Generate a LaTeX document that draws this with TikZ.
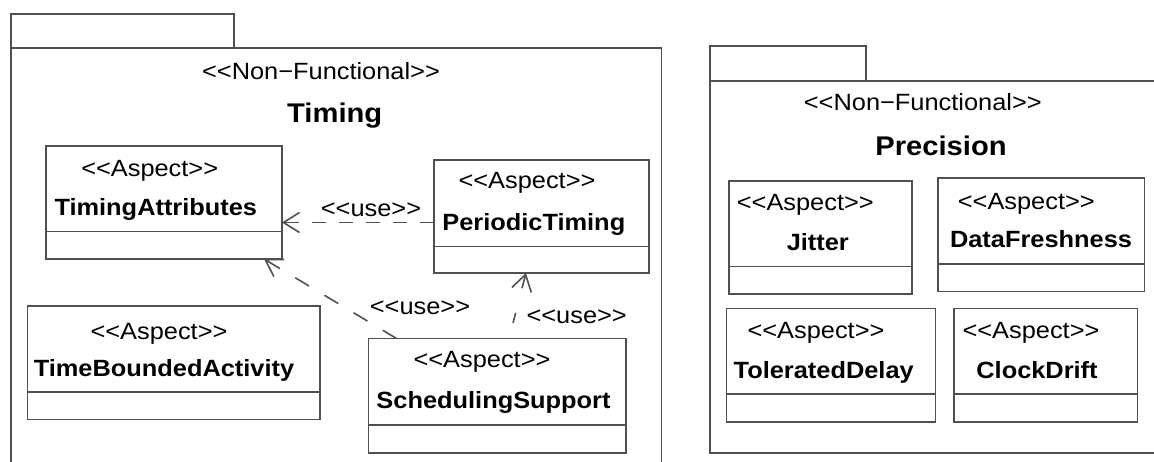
\documentclass[tikz,border=0pt]{standalone}
\usepackage{fontspec}
\newfontfamily\uf{Liberation Sans}[FakeStretch=1.08]
\usetikzlibrary{arrows.meta}
\definecolor{lncol}{HTML}{505050}
\newcommand\aspectbox[6]{% name, x, y, w, h, divider offset
  \node[cls, minimum width=#4pt, minimum height=#5pt] (#1) at (#2,#3) {};
  \draw[ln] ([yshift=-#6pt]#1.north west) -- ([yshift=-#6pt]#1.north east);
}
\begin{document}
\begin{tikzpicture}[x=1pt,y=-1pt,
  ln/.style={draw=lncol, line width=1.7pt},
  cls/.style={ln, rectangle, inner sep=0pt, outer sep=0pt, anchor=north west},
  st/.style={font=\uf\fontsize{23.5}{28}\selectfont, anchor=base, inner sep=0pt, text=black},
  nm/.style={font=\uf\fontsize{23.5}{28}\selectfont\bfseries, anchor=base, inner sep=0pt, text=black},
  ttl/.style={font=\uf\fontsize{27}{32}\selectfont\bfseries, anchor=base, inner sep=0pt, text=black},
  usearrow/.style={draw=lncol, line width=1.6pt, dash pattern=on 14pt off 13pt,
    -{Straight Barb[length=16pt,width=20pt]}},
]
\clip (0,0) rectangle (1154,461);
\fill[white] (0,0) rectangle (1154,461);

% ---------- left package: Timing ----------
\draw[ln] (11,48) -- (11,14) -- (234,14) -- (234,48);
\draw[ln] (11,480) -- (11,48) -- (661.5,48) -- (661.5,480);
\node[st] (lnf) at (321,79) {<<Non−Functional>>};
\node[ttl] (lttl) at (334.7,122.7) {Timing};

\aspectbox{ta}{46}{146}{236}{113}{85.5}
\node[st] (ta-s) at (149.7,176.7) {<<Aspect>>};
\node[nm] (ta-n) at (155.8,215) {TimingAttributes};

\aspectbox{pt}{434}{160}{215}{113}{86.5}
\node[st] (pt-s) at (527,188.3) {<<Aspect>>};
\node[nm] (pt-n) at (533.8,230.7) {PeriodicTiming};

\aspectbox{tba}{27.5}{306}{292.5}{113.5}{86}
\node[st] (tba-s) at (159,339) {<<Aspect>>};
\node[nm] (tba-n) at (164,376.5) {TimeBoundedActivity};

\aspectbox{ss}{368.5}{338.5}{257.5}{114.5}{86.5}
\node[st] (ss-s) at (482,367.3) {<<Aspect>>};
\node[nm] (ss-n) at (493.5,408) {SchedulingSupport};

% dependencies
\draw[usearrow] ([yshift=-6pt]pt.west) -- ([yshift=-6pt]pt.west -| ta.east);
\node[st] (u1) at (371,216) {<<use>>};
\draw[usearrow, dash pattern=on 16pt off 18pt] ([xshift=28pt]ss.north west) -- ([xshift=-18pt]ta.south east);
\node[st] (u2) at (420,314) {<<use>>};
\draw[usearrow, dash pattern=on 0pt off 16pt on 10.5pt off 25.5pt on 30pt] ([xshift=140.5pt]ss.north west) -- ([xshift=92pt]pt.south west);
\node[st] (u3) at (576.7,323.3) {<<use>>};

% ---------- right package: Precision ----------
\draw[ln] (710,81) -- (710,46) -- (866,46) -- (866,81);
\draw[ln] (1170,453) -- (710,453) -- (710,81) -- (1170,81);
\node[st] (rnf) at (922.8,110.7) {<<Non−Functional>>};
\node[ttl] (rttl) at (941,155) {Precision};

\aspectbox{ji}{729}{181}{183}{113}{85.5}
\node[st] (ji-s) at (805.3,210) {<<Aspect>>};
\node[nm] (ji-n) at (817.8,250.7) {Jitter};

\aspectbox{df}{938}{178}{206.5}{113.5}{86}
\node[st] (df-s) at (1026.3,209) {<<Aspect>>};
\node[nm] (df-n) at (1041,247.7) {DataFreshness};

\aspectbox{td}{726.5}{308.5}{209}{113.5}{85.5}
\node[st] (td-s) at (816,338.3) {<<Aspect>>};
\node[nm] (td-n) at (823.7,378.3) {ToleratedDelay};

\aspectbox{cd}{954}{308.5}{183.5}{113.5}{85.5}
\node[st] (cd-s) at (1031,338.3) {<<Aspect>>};
\node[nm] (cd-n) at (1037,378.3) {ClockDrift};
\end{tikzpicture}
\end{document}
